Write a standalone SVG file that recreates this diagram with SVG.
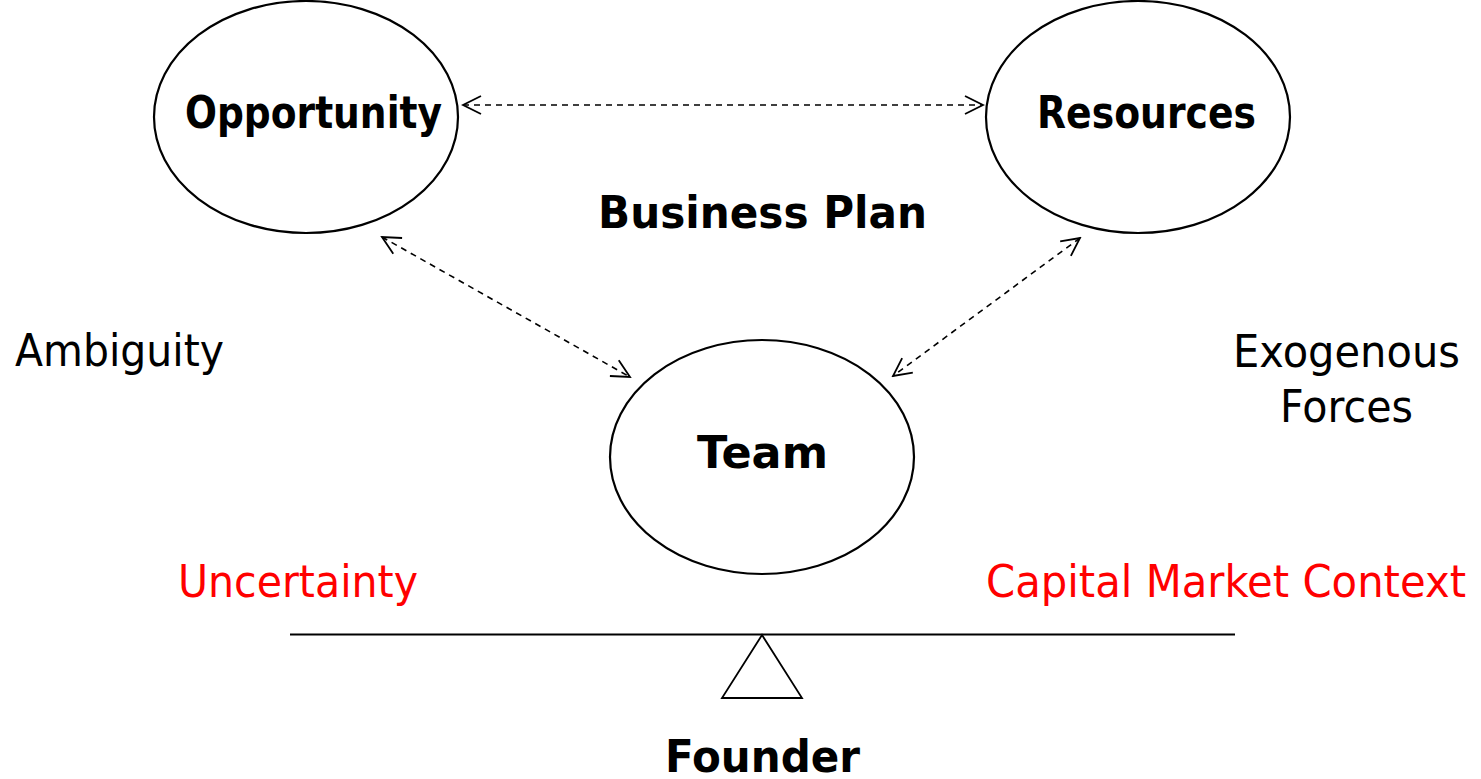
<svg xmlns="http://www.w3.org/2000/svg" width="1481" height="779" viewBox="0 0 1481 779">
<defs>
<style>
.node{fill:#fff;stroke:#000;stroke-width:2.2}
.b{font-family:"DejaVu Sans","Liberation Sans",sans-serif;font-weight:bold;font-size:44px;fill:#000}
.r{font-family:"DejaVu Sans","Liberation Sans",sans-serif;font-size:44px;fill:#000}
.red{fill:#ff0000}
.conn{stroke:#000;stroke-width:1.6;stroke-dasharray:6,5;fill:none}
.head{stroke:#000;stroke-width:1.8;fill:none}
</style>
<marker id="ah" viewBox="0 0 22 22" refX="20" refY="11" markerWidth="22" markerHeight="22" markerUnits="userSpaceOnUse" orient="auto-start-reverse">
<path class="head" d="M2,2 L20,11 L2,20"/>
</marker>
</defs>
<rect width="1481" height="779" fill="#fff"/>
<g id="connectors">
<line class="conn" x1="463" y1="105" x2="983" y2="105" marker-start="url(#ah)" marker-end="url(#ah)"/>
<line class="conn" x1="382" y1="237" x2="630" y2="377" marker-start="url(#ah)" marker-end="url(#ah)"/>
<line class="conn" x1="1080" y1="238" x2="893" y2="376" marker-start="url(#ah)" marker-end="url(#ah)"/>
</g>
<g id="opportunity">
<ellipse class="node" cx="306" cy="117" rx="152" ry="116"/>
<text class="b" x="185" y="128" textLength="257" lengthAdjust="spacingAndGlyphs">Opportunity</text>
</g>
<g id="resources">
<ellipse class="node" cx="1138" cy="117" rx="152" ry="116"/>
<text class="b" x="1037" y="128" textLength="219" lengthAdjust="spacingAndGlyphs">Resources</text>
</g>
<g id="team">
<ellipse class="node" cx="762" cy="457" rx="152" ry="117"/>
<text class="b" x="697" y="468" textLength="131" lengthAdjust="spacingAndGlyphs">Team</text>
</g>
<g id="business-plan">
<text class="b" x="598" y="228" textLength="329" lengthAdjust="spacingAndGlyphs">Business Plan</text>
</g>
<g id="ambiguity">
<text class="r" x="15" y="366" textLength="209" lengthAdjust="spacingAndGlyphs">Ambiguity</text>
</g>
<g id="exogenous-forces">
<text class="r" x="1233" y="367" textLength="227" lengthAdjust="spacingAndGlyphs">Exogenous</text>
<text class="r" x="1280" y="422" textLength="133" lengthAdjust="spacingAndGlyphs">Forces</text>
</g>
<g id="uncertainty">
<text class="r red" x="178" y="597" textLength="240" lengthAdjust="spacingAndGlyphs">Uncertainty</text>
</g>
<g id="capital-market-context">
<text class="r red" x="986" y="597" textLength="480" lengthAdjust="spacingAndGlyphs">Capital Market Context</text>
</g>
<g id="seesaw">
<line x1="290" y1="634.5" x2="1235" y2="634.5" stroke="#000" stroke-width="2"/>
<polygon points="762,635 722,698 802,698" fill="#fff" stroke="#000" stroke-width="1.8"/>
</g>
<g id="founder">
<text class="b" x="665" y="772" textLength="195" lengthAdjust="spacingAndGlyphs">Founder</text>
</g>
</svg>
